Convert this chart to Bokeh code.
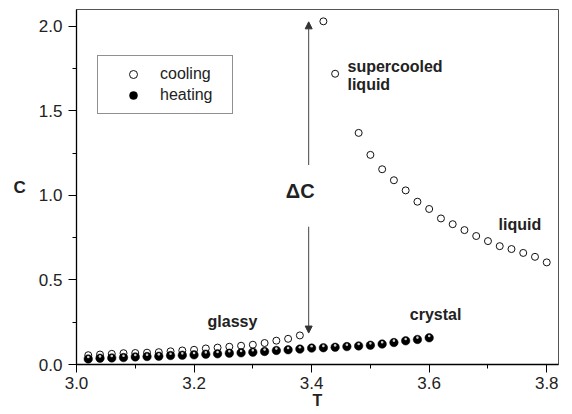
import numpy as np
from bokeh.plotting import figure
from bokeh.models import (Range1d, SingleIntervalTicker, PrintfTickFormatter, Legend,
                          LegendItem, Label, Arrow, NormalHead)
from bokeh.embed import file_html
from bokeh.resources import INLINE

# ---- data ----
T_cool = [3.02, 3.04, 3.06, 3.08, 3.10, 3.12, 3.14, 3.16, 3.18, 3.20,
          3.22, 3.24, 3.26, 3.28, 3.30, 3.32, 3.34, 3.36, 3.38,
          3.42, 3.44, 3.48, 3.50, 3.52, 3.54, 3.56, 3.58, 3.60, 3.62,
          3.64, 3.66, 3.68, 3.70, 3.72, 3.74, 3.76, 3.78, 3.80]
C_cool = [0.055, 0.059, 0.063, 0.067, 0.068, 0.070, 0.073, 0.078, 0.083, 0.087,
          0.095, 0.100, 0.105, 0.111, 0.117, 0.127, 0.141, 0.152, 0.172,
          2.03, 1.72, 1.37, 1.24, 1.155, 1.09, 1.03, 0.963, 0.92, 0.864,
          0.83, 0.795, 0.76, 0.73, 0.70, 0.683, 0.66, 0.637, 0.604]

T_heat = [3.02, 3.04, 3.06, 3.08, 3.10, 3.12, 3.14, 3.16, 3.18, 3.20,
          3.22, 3.24, 3.26, 3.28, 3.30, 3.32, 3.34, 3.36, 3.38, 3.40,
          3.42, 3.44, 3.46, 3.48, 3.50, 3.52, 3.54, 3.56, 3.58, 3.60]
C_heat = [0.033, 0.037, 0.039, 0.041, 0.045, 0.047, 0.049, 0.053, 0.055, 0.057,
          0.061, 0.063, 0.067, 0.069, 0.073, 0.077, 0.083, 0.087, 0.091, 0.097,
          0.099, 0.102, 0.106, 0.110, 0.114, 0.121, 0.130, 0.140, 0.148, 0.158]

x_ticks_interval = 0.2
y_ticks_interval = 0.5

FONT = "Liberation Sans"
TXT = "#222222"

p = figure(width=572, height=414, x_range=Range1d(3.0, 3.82), y_range=Range1d(0.0, 2.1),
           output_backend="svg", toolbar_location=None,
           min_border_left=76, min_border_right=14, min_border_top=9, min_border_bottom=50)

p.xgrid.visible = False
p.ygrid.visible = False
p.outline_line_color = "#555555"
p.outline_line_width = 1
p.background_fill_color = "white"
p.border_fill_color = "white"

p.xaxis.ticker = SingleIntervalTicker(interval=x_ticks_interval, num_minor_ticks=2)
p.yaxis.ticker = SingleIntervalTicker(interval=y_ticks_interval, num_minor_ticks=2)
for ax in (p.xaxis[0], p.yaxis[0]):
    ax.formatter = PrintfTickFormatter(format="%.1f")
    ax.axis_line_color = "black"
    ax.axis_line_width = 1.3
    ax.major_tick_line_color = "black"
    ax.minor_tick_line_color = "black"
    ax.major_tick_out = 8
    ax.major_tick_in = 0
    ax.minor_tick_out = 4
    ax.minor_tick_in = 0
    ax.major_label_text_font = FONT
    ax.major_label_text_font_size = "17px"
    ax.major_label_text_color = TXT
    ax.axis_label_text_font = FONT
    ax.axis_label_text_font_style = "bold"
    ax.axis_label_text_color = TXT

p.xaxis.major_label_standoff = 4
p.xaxis.axis_label = "T"
p.xaxis.axis_label_text_font_size = "16px"
p.xaxis.axis_label_standoff = 0

p.yaxis.major_label_standoff = 6
p.yaxis.axis_label = "C"
p.yaxis.axis_label_text_font_size = "17px"
p.yaxis.axis_label_orientation = "horizontal"
p.yaxis.axis_label_standoff = 10

# series
rc = p.scatter(T_cool, C_cool, size=7, marker="circle", fill_color="white",
               line_color="#111111", line_width=1)
rh = p.scatter(T_heat, C_heat, size=8.5, marker="circle", fill_color="black",
               line_color="black", line_width=0.5)
rhl = p.scatter(T_heat, list(np.array(C_heat) + 0.011), size=2.6, marker="circle",
                fill_color="white", fill_alpha=0.8, line_color=None)

legend = Legend(items=[LegendItem(label="cooling", renderers=[rc]),
                       LegendItem(label="heating", renderers=[rh])],
                location=(21, 250), margin=0, padding=8, glyph_width=54, glyph_height=20,
                label_height=20, label_standoff=0, spacing=1, label_width=64,
                border_line_color="#222222", border_line_width=1,
                label_text_font=FONT, label_text_font_size="16px",
                label_text_color=TXT, background_fill_alpha=1)
p.add_layout(legend)

# arrows for Delta C
head = dict(size=7, fill_color="#333333", line_color="#333333")
p.add_layout(Arrow(end=NormalHead(**head), x_start=3.395, y_start=1.18,
                   x_end=3.395, y_end=2.027, line_color="#444444", line_width=1))
p.add_layout(Arrow(end=NormalHead(**head), x_start=3.395, y_start=0.815,
                   x_end=3.395, y_end=0.186, line_color="#444444", line_width=1))

def lab(x, y, text, size="16px", style="bold", **kw):
    p.add_layout(Label(x=x, y=y, text=text, text_font=FONT, text_font_size=size,
                       text_font_style=style, text_color=TXT, **kw))

lab(3.461, 1.713, "supercooled")
lab(3.461, 1.606, "liquid")
lab(3.718, 0.777, "liquid")
lab(3.223, 0.203, "glassy")
lab(3.567, 0.245, "crystal")
lab(3.356, 0.963, "ΔC", size="20px")

open("out.html", "w").write(file_html(p, INLINE))
